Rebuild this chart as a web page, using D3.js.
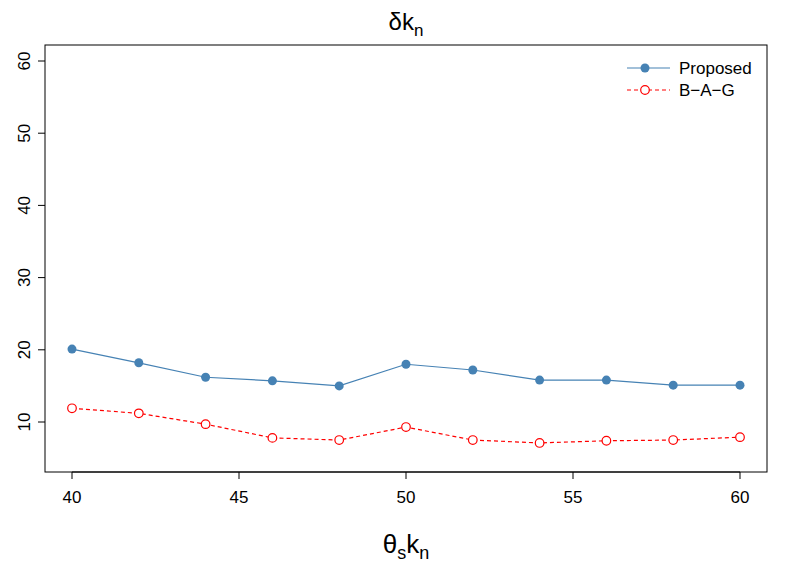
<!DOCTYPE html>
<html><head><meta charset="utf-8">
<script src="https://cdn.jsdelivr.net/npm/d3@7"></script>
<style>body{margin:0;background:#fff}text{font-family:"Liberation Sans",Arial,sans-serif}</style>
</head><body><svg id="c" width="789" height="564"></svg>
<script>
const xs = [40, 42, 44, 46, 48, 50, 52, 54, 56, 58, 60];
const proposed = [20.1, 18.2, 16.2, 15.7, 15.0, 18.0, 17.2, 15.8, 15.8, 15.1, 15.1];
const bag = [11.9, 11.2, 9.7, 7.8, 7.5, 9.3, 7.5, 7.1, 7.4, 7.5, 7.9];
const xTicks = [40, 45, 50, 55, 60];
const yTicks = [10, 20, 30, 40, 50, 60];

const svg = d3.select("#c");
const L = 45, R = 767, T = 45, B = 472;
const x = d3.scaleLinear().domain([40, 60]).range([72, 740]);
const y = d3.scaleLinear().domain([10, 60]).range([422, 61]);

svg.append("rect").attr("x", L).attr("y", T).attr("width", R - L).attr("height", B - T)
  .attr("fill", "none").attr("stroke", "#000");

// x axis
const gx = svg.append("g");
xTicks.forEach(t => {
  gx.append("line").attr("x1", x(t)).attr("x2", x(t)).attr("y1", B).attr("y2", B + 7).attr("stroke", "#000");
  gx.append("text").attr("x", x(t)).attr("y", B + 31).attr("text-anchor", "middle").attr("font-size", 17).text(t);
});
gx.append("line").attr("x1", x(40)).attr("x2", x(60)).attr("y1", B).attr("y2", B).attr("stroke", "#000");

// y axis
yTicks.forEach(t => {
  svg.append("line").attr("x1", L - 7).attr("x2", L).attr("y1", y(t)).attr("y2", y(t)).attr("stroke", "#000");
  svg.append("text").attr("transform", `translate(${L - 15},${y(t)}) rotate(-90)`)
    .attr("text-anchor", "middle").attr("font-size", 17).text(t);
});

// titles
svg.append("text").attr("x", 406).attr("y", 30).attr("text-anchor", "middle").attr("font-size", 24)
  .html('δk<tspan font-size="17" dy="6">n</tspan>');
svg.append("text").attr("x", 406).attr("y", 553).attr("text-anchor", "middle").attr("font-size", 26)
  .html('θ<tspan font-size="18" dy="6">s</tspan><tspan dy="-6">k</tspan><tspan font-size="18" dy="6">n</tspan>');

const line = d3.line().x((d, i) => x(xs[i])).y(d => y(d));
svg.append("path").datum(proposed).attr("d", line).attr("fill", "none").attr("stroke", "steelblue").attr("stroke-width", 1.2);
svg.selectAll(".p").data(proposed).enter().append("circle")
  .attr("cx", (d, i) => x(xs[i])).attr("cy", d => y(d)).attr("r", 4.5).attr("fill", "steelblue");
svg.append("path").datum(bag).attr("d", line).attr("fill", "none").attr("stroke", "red")
  .attr("stroke-width", 1.2).attr("stroke-dasharray", "4 3");
svg.selectAll(".b").data(bag).enter().append("circle")
  .attr("cx", (d, i) => x(xs[i])).attr("cy", d => y(d)).attr("r", 4.3).attr("fill", "#fff")
  .attr("stroke", "red").attr("stroke-width", 1.2);

// legend
const lg = svg.append("g");
lg.append("line").attr("x1", 627).attr("x2", 670).attr("y1", 68).attr("y2", 68).attr("stroke", "steelblue").attr("stroke-width", 1.2);
lg.append("circle").attr("cx", 645).attr("cy", 68).attr("r", 4.5).attr("fill", "steelblue");
lg.append("text").attr("x", 679).attr("y", 74).attr("font-size", 17).text("Proposed");
lg.append("line").attr("x1", 627).attr("x2", 670).attr("y1", 90).attr("y2", 90).attr("stroke", "red").attr("stroke-width", 1.2).attr("stroke-dasharray", "4 3");
lg.append("circle").attr("cx", 645).attr("cy", 90).attr("r", 4.3).attr("fill", "#fff").attr("stroke", "red").attr("stroke-width", 1.2);
lg.append("text").attr("x", 679).attr("y", 96).attr("font-size", 17).text("B\u2212A\u2212G");
</script></body></html>
